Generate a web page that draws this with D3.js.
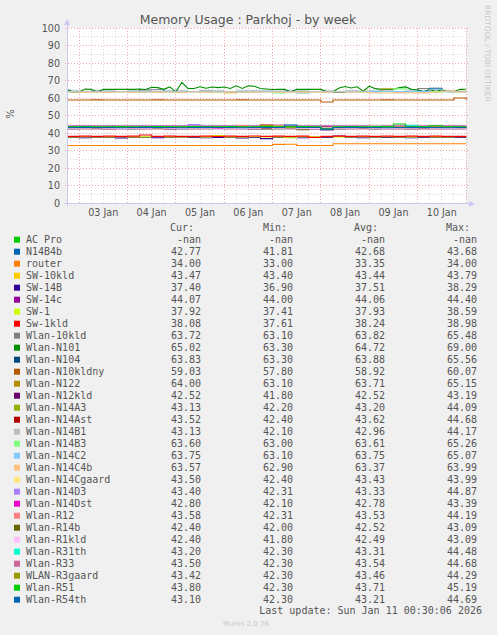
<!DOCTYPE html>
<html>
<head>
<meta charset="utf-8">
<script src="https://cdn.jsdelivr.net/npm/d3@7"></script>
<style>
body { margin: 0; background: #f0f0f0; }
</style>
</head>
<body>
<div id="chart"></div>
<script>
const names = ['AC Pro', 'N14B4b', 'router', 'SW-10kld', 'SW-14B', 'SW-14c', 'SW-1', 'Sw-1kld',
    'Wlan-10kld', 'Wlan-N101', 'Wlan-N104', 'Wlan-N10kldny', 'Wlan-N122', 'Wlan-N12kld', 'Wlan-N14A3',
    'Wlan-N14Ast', 'Wlan-N14B1', 'Wlan-N14B3', 'Wlan-N14C2', 'Wlan-N14C4b', 'Wlan-N14Cgaard', 'Wlan-N14D3',
    'Wlan-N14Dst', 'Wlan-R12', 'Wlan-R14b', 'Wlan-R1kld', 'Wlan-R31th', 'Wlan-R33', 'WLAN-R3gaard',
    'Wlan-R51', 'Wlan-R54th'];
const colors = ['#00CC00', '#0066B3', '#FF8000', '#FFCC00', '#330099', '#990099', '#CCFF00', '#FF0000',
    '#808080', '#008F00', '#00487D', '#B35A00', '#B38F00', '#6B006B', '#8FB300', '#B30000', '#BEBEBE',
    '#80FF80', '#80C9FF', '#FFC080', '#FFE680', '#AA80FF', '#EE00CC', '#FF8080', '#666600', '#FFBFFF',
    '#00FFCC', '#CC6699', '#999900', '#00CC00', '#0066B3'];
// null = -nan
const cur = [null, 42.77, 34.00, 43.47, 37.40, 44.07, 37.92, 38.08, 63.72, 65.02, 63.83, 59.03, 64.00, 42.52,
    43.13, 43.52, 43.13, 63.60, 63.75, 63.57, 43.50, 43.40, 42.80, 43.58, 42.40, 42.40, 43.20, 43.50, 43.42,
    43.80, 43.10];
const mins = [null, 41.81, 33.00, 43.40, 36.90, 44.00, 37.41, 37.61, 63.10, 63.30, 63.30, 57.80, 63.10, 41.80,
    42.20, 42.40, 42.10, 63.00, 63.10, 62.90, 42.40, 42.31, 42.10, 42.31, 42.00, 41.80, 42.30, 42.30, 42.30,
    42.30, 42.30];
const avgs = [null, 42.68, 33.35, 43.44, 37.51, 44.06, 37.93, 38.24, 63.82, 64.72, 63.88, 58.92, 63.71, 42.52,
    43.20, 43.62, 42.96, 63.61, 63.75, 63.37, 43.43, 43.33, 42.78, 43.53, 42.52, 42.49, 43.31, 43.54, 43.46,
    43.71, 43.21];
const maxs = [null, 43.68, 34.00, 43.79, 38.29, 44.40, 38.59, 38.98, 65.48, 69.00, 65.56, 60.07, 65.15, 43.19,
    44.09, 44.68, 44.17, 65.26, 65.07, 63.99, 43.99, 44.87, 43.39, 44.19, 43.09, 43.09, 44.48, 44.68, 44.29,
    45.19, 44.69];

// samples evenly spread over the week window (6h steps, Wlan-N101 at 3h)
const trend = [
    null, // AC Pro
    [42.6,42.7,42.5,42.8,42.7,42.6,42.9,42.7,42.6,42.5,42.8,42.7,42.6,42.7,42.9,42.6,42.5,42.7,42.8,42.6,42.7,41.8,42.5,42.7,42.8,42.6,42.7,43.7,42.8,42.6,42.7,42.8,42.7,42.77],
    [33,33,33,33,33,33,33,33,33,33,33,33,33,33,33,33,33,33.6,33.7,33,33,33,34,34,34,34,34,34,34,34,34,34,34,34],
    [43.4,43.45,43.4,43.5,43.4,43.45,43.4,43.5,43.45,43.4,43.4,43.5,43.45,43.4,43.8,43.45,43.4,43.5,43.4,43.45,43.4,43.45,43.5,43.4,43.45,43.4,43.5,43.45,43.4,43.45,43.5,43.4,43.45,43.47],
    [37.5,37.4,37.6,37.5,37.3,37.5,37.6,37.4,37.5,37.7,37.5,37.4,37.6,37.5,37.3,37.5,36.9,37.6,37.5,37.4,37.6,37.5,38.3,37.5,37.4,37.6,37.5,37.5,37.4,37.6,37.5,37.6,37.5,37.4],
    [44.0,44.05,44.1,44.0,44.05,44.1,44.0,44.05,44.0,44.1,44.05,44.0,44.1,44.05,44.0,44.05,44.4,44.05,44.0,44.1,44.05,44.0,44.05,44.1,44.0,44.05,44.1,44.05,44.0,44.05,44.1,44.05,44.0,44.07],
    [37.9,38.0,37.9,37.8,38.0,37.9,37.9,38.1,37.9,37.8,38.0,37.9,38.6,37.9,37.8,38.0,37.9,37.9,37.4,38.0,37.9,38.0,37.9,37.8,38.0,37.9,38.0,37.9,37.8,38.0,37.9,37.9,38.0,37.92],
    [38.2,38.3,38.2,38.3,38.2,38.3,39.0,38.2,38.3,38.2,38.2,38.3,38.2,38.3,38.2,38.4,38.2,38.3,38.2,38.3,37.6,38.2,38.3,38.2,38.3,38.2,38.3,38.2,38.3,38.2,38.3,38.2,38.2,38.08],
    [63.8,63.8,63.9,63.7,63.8,63.8,64.8,64.8,63.8,63.7,63.8,63.9,63.8,63.8,63.7,63.8,63.8,63.9,63.8,63.1,63.8,63.8,63.7,63.8,63.9,63.8,63.8,63.7,63.8,65.5,64.6,63.8,63.7,63.72],
    [65.0,63.5,63.5,65.2,65.0,63.5,65.0,65.0,65.0,65.1,65.0,65.0,65.2,64.9,66.2,66.0,65.0,66.4,63.6,69.0,65.5,65.5,66.5,65.6,66.3,66.0,66.3,65.5,67.0,65.5,67.0,66.8,65.5,65.2,64.9,65.0,65.0,63.6,65.0,65.0,65.0,65.0,65.0,63.6,63.6,65.8,66.6,65.8,66.5,64.0,66.8,65.4,65.0,65.0,65.0,66.0,66.4,65.0,64.8,63.6,65.0,63.6,64.8,63.6,63.6,65.0,65.02],
    [63.9,63.8,63.9,63.9,63.8,63.9,63.9,63.8,63.9,63.9,63.8,63.9,63.9,63.8,63.9,63.9,63.9,63.8,63.9,63.9,63.8,63.9,63.3,63.9,63.8,63.9,63.9,63.8,63.9,63.9,65.6,63.9,63.8,63.83],
    [58.9,58.9,59.0,58.9,58.9,58.9,58.9,59.0,58.9,58.9,58.9,58.9,58.9,58.9,59.0,58.9,58.9,58.9,58.9,58.9,58.9,57.8,58.9,58.9,58.9,58.9,59.0,58.9,58.9,58.9,58.9,58.9,60.1,59.03],
    [63.7,63.7,63.6,63.7,63.8,63.7,63.7,63.6,63.7,63.7,63.8,63.7,63.7,63.1,63.7,63.7,63.8,63.7,63.7,63.6,63.7,63.7,63.7,63.8,63.7,63.7,65.2,63.7,63.6,63.7,63.7,63.8,63.9,64.0],
    [42.5,42.6,42.5,42.4,42.5,42.6,42.5,42.5,42.4,42.6,42.5,42.5,43.2,42.5,42.6,42.4,42.5,42.5,42.6,42.5,42.4,41.8,42.5,42.6,42.5,42.5,42.6,42.5,42.4,42.6,42.5,42.5,42.6,42.52],
    [43.2,43.3,43.1,43.2,43.2,43.3,43.2,43.1,43.2,43.3,43.2,43.2,43.1,43.2,43.3,43.2,43.2,44.1,43.2,43.1,43.2,42.2,43.2,43.3,43.2,43.2,43.1,43.2,43.3,43.2,43.2,43.1,43.2,43.13],
    [43.6,43.7,43.6,43.5,43.6,43.7,43.6,43.6,43.5,43.7,43.6,43.6,43.7,43.6,43.5,43.6,44.7,43.6,43.7,43.6,43.6,42.4,43.6,43.7,43.6,43.5,43.6,43.7,43.6,43.6,43.7,43.6,43.5,43.52],
    [42.9,43.0,42.9,43.0,42.9,43.0,42.9,42.9,43.0,42.9,43.0,42.9,42.9,43.0,42.9,43.0,42.9,42.1,43.0,42.9,42.9,43.0,42.9,43.0,42.9,44.2,43.0,42.9,42.9,43.0,42.9,43.0,43.0,43.13],
    [63.6,63.6,63.7,63.6,63.6,63.5,63.6,63.6,63.7,63.6,63.6,63.6,63.5,63.6,63.6,63.7,63.6,63.0,63.6,63.6,63.6,63.7,63.6,63.6,63.5,63.6,63.6,65.3,63.6,63.6,63.7,63.6,63.6,63.60],
    [63.7,63.8,63.7,63.8,63.7,63.8,63.7,63.8,63.7,63.8,63.7,63.8,63.7,63.8,63.7,63.8,63.7,63.8,63.7,63.1,63.8,63.7,63.8,63.7,63.8,63.7,63.8,63.7,63.8,63.7,65.1,63.7,63.8,63.75],
    [63.5,63.4,63.5,63.4,63.5,63.4,63.5,63.4,63.5,63.4,63.5,63.4,63.5,63.4,63.5,63.4,63.5,63.4,63.5,63.4,63.5,63.4,63.5,63.4,63.5,62.9,62.9,63.0,62.9,63.0,63.5,64.0,63.5,63.57],
    [43.4,43.5,43.4,43.4,43.5,43.4,43.4,43.5,43.4,43.4,43.5,43.4,43.4,43.5,43.4,43.4,43.5,44.0,43.4,43.4,43.5,42.4,43.4,43.5,43.4,43.4,43.5,43.4,43.4,43.5,43.4,43.4,43.5,43.50],
    [43.3,43.4,43.3,43.3,43.4,43.3,43.3,43.4,43.3,43.3,44.9,43.3,43.3,43.4,43.3,43.3,43.4,43.3,43.3,43.4,43.3,42.3,43.3,43.4,43.3,43.3,43.4,43.3,43.3,43.4,43.3,43.3,43.4,43.40],
    [42.8,42.7,42.8,42.9,42.8,42.7,42.8,42.8,42.9,42.7,42.8,42.8,42.7,42.9,42.8,42.8,42.7,42.8,42.9,43.4,42.8,42.1,42.8,42.7,42.8,42.9,42.8,42.7,42.8,42.8,42.9,42.7,42.8,42.80],
    [43.5,43.6,43.5,43.5,43.6,43.5,43.5,43.6,43.5,43.5,43.6,43.5,43.5,43.6,44.2,43.5,43.5,43.6,43.5,43.5,43.6,42.3,43.5,43.6,43.5,43.5,43.6,43.5,43.5,43.6,43.5,43.5,43.6,43.58],
    [42.5,42.6,42.5,42.5,42.6,42.5,42.5,42.6,42.5,42.5,42.6,42.5,43.1,42.5,42.6,42.5,42.5,42.6,42.5,42.0,42.5,42.5,42.6,42.5,42.5,42.6,42.5,42.5,42.6,42.5,42.5,42.6,42.5,42.40],
    [42.5,42.5,42.4,42.5,42.6,42.5,42.5,42.4,42.5,42.6,42.5,42.5,42.4,42.5,42.6,42.5,43.1,42.5,42.4,42.5,42.6,41.8,42.5,42.5,42.4,42.5,42.6,42.5,42.5,42.4,42.5,42.6,42.5,42.40],
    [43.3,43.4,43.3,43.3,43.2,43.3,43.4,43.3,43.3,43.2,43.3,43.4,43.3,43.3,43.2,43.3,43.4,43.3,43.3,43.2,43.3,42.3,43.3,43.4,43.3,43.3,43.2,43.3,44.5,43.3,43.2,43.3,43.4,43.20],
    [43.5,43.6,43.5,43.5,43.6,43.5,43.5,43.6,43.5,43.5,43.6,43.5,43.5,43.6,43.5,43.5,43.6,44.7,43.5,43.5,43.6,42.3,43.5,43.6,43.5,43.5,43.6,43.5,43.5,43.6,43.5,43.5,43.6,43.50],
    [43.5,43.4,43.5,43.5,43.4,43.5,43.5,43.4,43.5,43.5,43.4,43.5,43.5,43.4,43.5,43.5,44.3,43.5,43.4,43.5,43.5,42.3,43.4,43.5,43.5,43.4,43.5,43.5,43.4,43.5,43.5,43.4,43.5,43.42],
    [43.7,43.8,43.7,43.7,43.8,43.7,43.7,43.8,43.7,43.7,43.8,43.7,43.7,43.8,43.7,43.7,43.8,43.7,43.7,43.8,43.7,42.3,43.7,43.8,43.7,43.7,43.8,45.2,43.7,43.8,44.2,43.7,43.7,43.80],
    [43.2,43.3,43.2,43.2,43.1,43.2,43.3,43.2,43.2,43.1,43.2,43.3,43.2,43.2,43.1,43.2,43.3,43.2,44.7,43.2,43.2,42.3,43.2,43.3,43.2,43.2,43.1,43.2,43.3,43.2,43.2,43.1,43.2,43.10]
];
const yTicks = [0, 10, 20, 30, 40, 50, 60, 70, 80, 90, 100];
const dayLabels = ['03 Jan', '04 Jan', '05 Jan', '06 Jan', '07 Jan', '08 Jan', '09 Jan', '10 Jan'];
const tStart = new Date(2026, 0, 2, 18), tEnd = new Date(2026, 0, 11, 0);

const W = 497, H = 635;
const pLeft = 67, pRight = 466, pTop = 28, pBottom = 203.3;
const txt = '#555';
const sans = 'DejaVu Sans, sans-serif', mono = 'DejaVu Sans Mono, monospace';

var svg = d3.select('#chart').append('svg')
    .attr('width', W).attr('height', H)
    .style('display', 'block');
svg.append('rect').attr('width', W).attr('height', H).attr('fill', '#f0f0f0');

var x = d3.scaleTime().domain([tStart, tEnd]).range([pLeft, pRight]);
var y = d3.scaleLinear().domain([0, 100]).range([pBottom, pTop]);

// canvas
svg.append('rect')
    .attr('x', pLeft).attr('y', pTop)
    .attr('width', pRight - pLeft).attr('height', pBottom - pTop)
    .attr('fill', '#fff');

var grid = svg.append('g').attr('shape-rendering', 'crispEdges');
// minor grid
d3.timeHour.every(6).range(tStart, tEnd).forEach(function (t) {
    if (t.getHours() === 0) return;
    grid.append('line').attr('x1', x(t)).attr('x2', x(t)).attr('y1', pTop).attr('y2', pBottom)
        .attr('stroke', '#d8d8d8').attr('stroke-dasharray', '1,2');
});
d3.range(5, 100, 10).forEach(function (v) {
    grid.append('line').attr('x1', pLeft).attr('x2', pRight).attr('y1', y(v)).attr('y2', y(v))
        .attr('stroke', '#d8d8d8').attr('stroke-dasharray', '1,2');
});
// major grid
d3.timeDay.range(tStart, d3.timeSecond.offset(tEnd, 1)).forEach(function (t) {
    grid.append('line').attr('x1', x(t)).attr('x2', x(t)).attr('y1', pTop).attr('y2', pBottom + 2)
        .attr('stroke', '#f0a8a8').attr('stroke-dasharray', '1,2');
});
yTicks.forEach(function (v) {
    grid.append('line').attr('x1', pLeft - 2).attr('x2', pRight + 2).attr('y1', y(v)).attr('y2', y(v))
        .attr('stroke', '#f0a8a8').attr('stroke-dasharray', '1,2');
});

// y labels
svg.append('g').selectAll('text').data(yTicks).enter().append('text')
    .attr('x', 60).attr('y', function (d) { return y(d) + 3.5; })
    .attr('text-anchor', 'end')
    .attr('font-family', sans).attr('font-size', 9.6).attr('fill', txt)
    .text(function (d) { return d; });

// x labels at noon
svg.append('g').selectAll('text').data(dayLabels).enter().append('text')
    .attr('x', function (d, i) { return x(new Date(2026, 0, 3 + i, 12)); })
    .attr('y', 216)
    .attr('text-anchor', 'middle')
    .attr('font-family', sans).attr('font-size', 9.6).attr('fill', txt)
    .text(function (d) { return d; });

// series
var plot = svg.append('g');
trend.forEach(function (vals, k) {
    if (!vals) return;
    var step = (tEnd - tStart) / (vals.length - 1);
    var line = d3.line()
        .x(function (d, i) { return x(new Date(+tStart + i * step)); })
        .y(function (d) { return y(d); })
        .curve(vals.length > 40 ? d3.curveLinear : d3.curveStepAfter);
    plot.append('path')
        .attr('d', line(vals))
        .attr('fill', 'none')
        .attr('stroke', colors[k])
        .attr('stroke-width', 1.1);
});

// axes
var axisCol = '#c8c8f0';
svg.append('line').attr('x1', pLeft).attr('x2', pLeft).attr('y1', pBottom + 3).attr('y2', pTop - 6)
    .attr('stroke', axisCol).attr('shape-rendering', 'crispEdges');
svg.append('line').attr('x1', pLeft - 3).attr('x2', pRight + 5).attr('y1', pBottom + 0.5).attr('y2', pBottom + 0.5)
    .attr('stroke', axisCol).attr('shape-rendering', 'crispEdges');
svg.append('path').attr('d', 'M' + (pLeft - 3) + ',' + (pTop - 3) + 'L' + pLeft + ',' + (pTop - 9) + 'L' + (pLeft + 3) + ',' + (pTop - 3) + 'Z')
    .attr('fill', axisCol);
svg.append('path').attr('d', 'M' + (pRight + 3) + ',' + (pBottom - 2.5) + 'L' + (pRight + 9) + ',' + (pBottom + 0.5) + 'L' + (pRight + 3) + ',' + (pBottom + 3.5) + 'Z')
    .attr('fill', axisCol);

// title and side texts
svg.append('text').attr('x', 248).attr('y', 23.5).attr('text-anchor', 'middle')
    .attr('font-family', sans).attr('font-size', 12.5).attr('fill', txt)
    .text('Memory Usage : Parkhoj - by week');
svg.append('text').attr('transform', 'translate(14,114) rotate(-90)').attr('text-anchor', 'middle')
    .attr('font-family', sans).attr('font-size', 10).attr('fill', txt).text('%');
svg.append('text').attr('transform', 'translate(484.5,5) rotate(90)').attr('text-anchor', 'start')
    .attr('font-family', sans).attr('font-size', 7.5).attr('fill', '#c8c8c8').text('RRDTOOL / TOBI OETIKER');

// legend
var colX = [201, 293, 385, 477];
var heads = ['Cur:', 'Min:', 'Avg:', 'Max:'];
var headX = [194, 287, 378, 470];
svg.append('g').selectAll('text').data(heads).enter().append('text')
    .attr('x', function (d, i) { return headX[i]; }).attr('y', 231.2)
    .attr('text-anchor', 'end')
    .attr('font-family', mono).attr('font-size', 10).attr('fill', txt)
    .text(function (d) { return d; });

var rows = svg.append('g').selectAll('g').data(names).enter().append('g')
    .attr('transform', function (d, i) { return 'translate(0,' + (239.7 + i * 12) + ')'; });
rows.append('rect').attr('x', 14).attr('y', -3).attr('width', 6).attr('height', 6)
    .attr('fill', function (d, i) { return colors[i]; });
rows.append('text').attr('x', 26).attr('y', 3.5)
    .attr('font-family', mono).attr('font-size', 10).attr('fill', txt)
    .text(function (d) { return d; });
[cur, mins, avgs, maxs].forEach(function (col, c) {
    rows.append('text').attr('x', colX[c]).attr('y', 3.5).attr('text-anchor', 'end')
        .attr('font-family', mono).attr('font-size', 10).attr('fill', txt)
        .text(function (d, i) { return col[i] == null ? '-nan' : col[i].toFixed(2); });
});

svg.append('text').attr('x', 482).attr('y', 614).attr('text-anchor', 'end')
    .attr('font-family', mono).attr('font-size', 10).attr('fill', txt)
    .text('Last update: Sun Jan 11 00:30:06 2026');
svg.append('text').attr('x', 246).attr('y', 626).attr('text-anchor', 'middle')
    .attr('font-family', sans).attr('font-size', 7).attr('fill', '#c8c8c8')
    .text('Munin 2.0.76');
</script>
</body>
</html>
